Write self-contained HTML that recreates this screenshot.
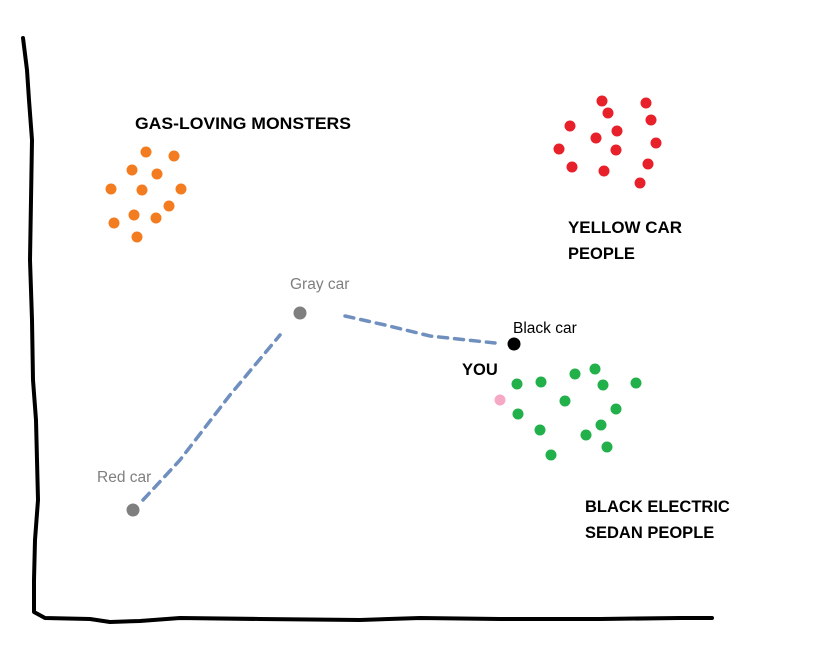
<!DOCTYPE html>
<html><head><style>body{margin:0;background:#fff}svg{display:block}</style></head><body>
<svg width="817" height="648" viewBox="0 0 817 648" xmlns="http://www.w3.org/2000/svg" font-family="Liberation Sans, sans-serif">
<g fill="none" stroke="#000" stroke-width="4" stroke-linecap="round" stroke-linejoin="round">
<path d="M23,38 L27,70 L29,100 L32,140 L31,200 L30,260 L32,320 L33,380 L36,420 L37,460 L38,500 L35,540 L34,580 L34,612 L45,618 L90,619 L110,622 L140,621 L180,618 L260,619 L360,620 L420,618 L500,619 L600,619 L680,618 L712,618"/>
</g>
<g fill="none" stroke="#6f8fbf" stroke-width="3.5" stroke-dasharray="9,7" stroke-linecap="round">
<path d="M143,500 L180,460 L230,395 L280,335"/>
<path d="M345,316 L385,325 L430,336 L495,343"/>
</g>
<g fill="#f47c20">
<circle cx="146" cy="152" r="5.5"/><circle cx="174" cy="156" r="5.5"/><circle cx="132" cy="170" r="5.5"/><circle cx="157" cy="174" r="5.5"/><circle cx="111" cy="189" r="5.5"/><circle cx="142" cy="190" r="5.5"/><circle cx="181" cy="189" r="5.5"/><circle cx="169" cy="206" r="5.5"/><circle cx="134" cy="215" r="5.5"/><circle cx="156" cy="218" r="5.5"/><circle cx="114" cy="223" r="5.5"/><circle cx="137" cy="237" r="5.5"/>
</g>
<g fill="#e8202a">
<circle cx="602" cy="101" r="5.5"/><circle cx="646" cy="103" r="5.5"/><circle cx="608" cy="113" r="5.5"/><circle cx="570" cy="126" r="5.5"/><circle cx="651" cy="120" r="5.5"/><circle cx="617" cy="131" r="5.5"/><circle cx="596" cy="138" r="5.5"/><circle cx="559" cy="149" r="5.5"/><circle cx="616" cy="150" r="5.5"/><circle cx="656" cy="143" r="5.5"/><circle cx="572" cy="167" r="5.5"/><circle cx="604" cy="171" r="5.5"/><circle cx="648" cy="164" r="5.5"/><circle cx="640" cy="183" r="5.5"/>
</g>
<g fill="#22b04b">
<circle cx="517" cy="384" r="5.5"/><circle cx="541" cy="382" r="5.5"/><circle cx="575" cy="374" r="5.5"/><circle cx="595" cy="369" r="5.5"/><circle cx="603" cy="385" r="5.5"/><circle cx="636" cy="383" r="5.5"/><circle cx="565" cy="401" r="5.5"/><circle cx="616" cy="409" r="5.5"/><circle cx="518" cy="414" r="5.5"/><circle cx="540" cy="430" r="5.5"/><circle cx="601" cy="425" r="5.5"/><circle cx="586" cy="435" r="5.5"/><circle cx="607" cy="447" r="5.5"/><circle cx="551" cy="455" r="5.5"/>
</g>
<circle cx="500" cy="400" r="5.5" fill="#f7a8c4"/>
<circle cx="514" cy="344" r="6.5" fill="#000"/>
<circle cx="300" cy="313" r="6.5" fill="#7f7f7f"/>
<circle cx="133" cy="510" r="6.5" fill="#7f7f7f"/>
<g font-weight="bold" font-size="16.5" fill="#000">
<text x="135" y="129" textLength="216" lengthAdjust="spacingAndGlyphs">GAS-LOVING MONSTERS</text>
<text x="568" y="233" textLength="114" lengthAdjust="spacingAndGlyphs">YELLOW CAR</text>
<text x="568" y="259">PEOPLE</text>
<text x="462" y="375">YOU</text>
<text x="585" y="512">BLACK ELECTRIC</text>
<text x="585" y="538">SEDAN PEOPLE</text>
</g>
<g font-size="15.5">
<text x="290" y="289" fill="#7f7f7f">Gray car</text>
<text x="97" y="482" fill="#7f7f7f">Red car</text>
<text x="513" y="333" fill="#000">Black car</text>
</g>
</svg>
</body></html>
